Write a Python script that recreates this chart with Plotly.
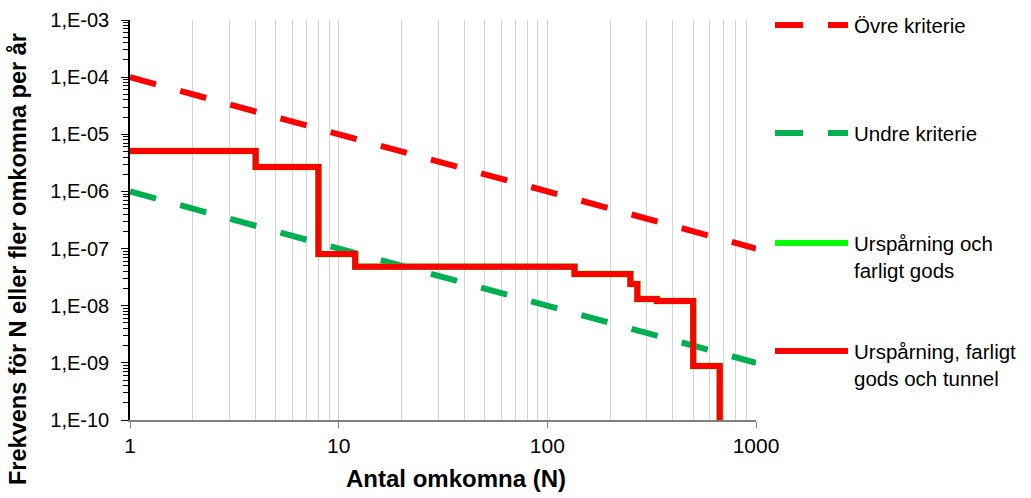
import plotly.graph_objects as go

# ---- data ----
n_criteria = [1, 1000]
ovre_kriterie = [1e-4, 1e-7]
undre_kriterie = [1e-6, 1e-9]

n_steps = [1, 4, 8, 12, 135, 250, 270, 335, 500, 670]
ursparning_farligt_gods = [5.1e-6, 2.67e-6, 8.0e-8, 4.82e-8, 3.6e-8, 2.4e-8, 1.31e-8, 1.21e-8, 8.8e-10, 1e-11]
ursparning_farligt_gods_tunnel = [5.1e-6, 2.67e-6, 8.0e-8, 4.82e-8, 3.6e-8, 2.4e-8, 1.31e-8, 1.21e-8, 8.8e-10, 1e-11]

x_tickvals = [1, 10, 100, 1000]
x_ticktext = ["1", "10", "100", "1000"]
y_tickvals = [1e-3, 1e-4, 1e-5, 1e-6, 1e-7, 1e-8, 1e-9, 1e-10]
y_ticktext = ["1,E-03", "1,E-04", "1,E-05", "1,E-06", "1,E-07", "1,E-08", "1,E-09", "1,E-10"]

legend_names = ["Övre kriterie", "Undre kriterie", "Urspårning och<br>farligt gods",
                "Urspårning, farligt<br>gods och tunnel"]

RED = "#FF0000"
GREEN_DASH = "#00B050"
GREEN = "#00FF00"
FONT = "Liberation Sans, Arial, sans-serif"

W, H = 1031, 498
L, R, T, B = 130, 275, 20, 78
PW, PH = W - L - R, H - T - B

fig = go.Figure()
fig.add_trace(go.Scatter(x=n_criteria, y=ovre_kriterie, mode="lines",
                         line=dict(color=RED, width=6, dash="27px,25px"), showlegend=False))
fig.add_trace(go.Scatter(x=n_criteria, y=undre_kriterie, mode="lines",
                         line=dict(color=GREEN_DASH, width=6, dash="27px,25px"), showlegend=False))
fig.add_trace(go.Scatter(x=n_steps, y=ursparning_farligt_gods, mode="lines", line_shape="hv",
                         line=dict(color=GREEN, width=6.4), showlegend=False))
fig.add_trace(go.Scatter(x=n_steps, y=ursparning_farligt_gods_tunnel, mode="lines", line_shape="hv",
                         line=dict(color=RED, width=6), showlegend=False))

fig.update_xaxes(type="log", range=[0, 3], tickmode="array", tickvals=x_tickvals, ticktext=x_ticktext,
                 showline=True, linecolor="#808080", linewidth=1.5, ticks="outside", ticklen=6,
                 tickcolor="#808080", showgrid=True, gridcolor="#D4D4D4", gridwidth=1.3,
                 minor=dict(dtick="D1", showgrid=True, gridcolor="#D4D4D4", gridwidth=1.3, ticks=""),
                 tickfont=dict(family=FONT, size=21, color="#000"), zeroline=False)
fig.update_yaxes(type="log", range=[-10, -3], tickmode="array", tickvals=y_tickvals, ticktext=y_ticktext,
                 showline=True, linecolor="#000", linewidth=1.5, ticks="outside", ticklen=7,
                 tickcolor="#000", showgrid=False, ticklabelstandoff=8,
                 minor=dict(dtick="D1", ticks="outside", ticklen=5, tickcolor="#000", showgrid=False),
                 tickfont=dict(family=FONT, size=20, color="#000"), zeroline=False)

def px_x(px):
    return (px - L) / PW

def px_y(py):
    return (H - B - py) / PH

# manual legend
legend_rows = [
    (25, RED, True, legend_names[0]),
    (133, GREEN_DASH, True, legend_names[1]),
    (243, GREEN, False, legend_names[2]),
    (351, RED, False, legend_names[3]),
]
shapes = []
annotations = []
for py, col, dashed, name in legend_rows:
    if dashed:
        segs = [(775, 803), (828, 848)]
    else:
        segs = [(775, 848)]
    for a, b in segs:
        shapes.append(dict(type="line", xref="paper", yref="paper", x0=px_x(a), x1=px_x(b),
                           y0=px_y(py), y1=px_y(py), line=dict(color=col, width=6)))
    annotations.append(dict(xref="paper", yref="paper", x=px_x(852), y=px_y(py - 13),
                            xanchor="left", yanchor="top", align="left", showarrow=False,
                            text=name, font=dict(family=FONT, size=20.5, color="#000")))

annotations.append(dict(xref="paper", yref="paper", x=px_x(456), y=px_y(478), xanchor="center",
                        yanchor="middle", showarrow=False, text="<b>Antal omkomna (N)</b>",
                        font=dict(family=FONT, size=24, color="#000")))
annotations.append(dict(xref="paper", yref="paper", x=px_x(18), y=px_y(259), xanchor="center",
                        yanchor="middle", showarrow=False, textangle=-90,
                        text="<b>Frekvens för N eller fler omkomna per år</b>",
                        font=dict(family=FONT, size=23.5, color="#000")))

fig.update_layout(width=W, height=H, margin=dict(l=L, r=R, t=T, b=B, autoexpand=False),
                  plot_bgcolor="white", paper_bgcolor="white", showlegend=False,
                  shapes=shapes, annotations=annotations)

fig.write_html("out.html")
